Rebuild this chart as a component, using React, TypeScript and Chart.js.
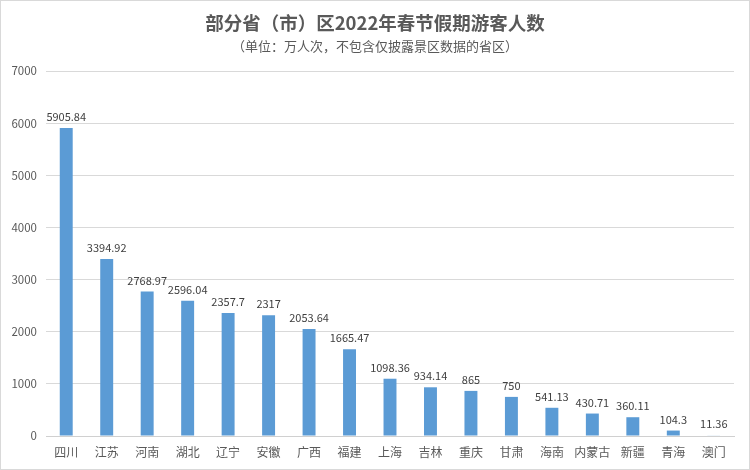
import React, { useEffect, useRef } from "react";
import { Chart, registerables } from "chart.js";

Chart.register(...registerables);

const TITLE = "部分省（市）区2022年春节假期游客人数";
const SUBTITLE = "（单位：万人次，不包含仅披露景区数据的省区）";
const categories = ["四川", "江苏", "河南", "湖北", "辽宁", "安徽", "广西", "福建", "上海", "吉林", "重庆", "甘肃", "海南", "内蒙古", "新疆", "青海", "澳门"];
const values = [5905.84, 3394.92, 2768.97, 2596.04, 2357.7, 2317, 2053.64, 1665.47, 1098.36, 934.14, 865, 750, 541.13, 430.71, 360.11, 104.3, 11.36];
const valueLabels = ["5905.84", "3394.92", "2768.97", "2596.04", "2357.7", "2317", "2053.64", "1665.47", "1098.36", "934.14", "865", "750", "541.13", "430.71", "360.11", "104.3", "11.36"];

const FONT = "'Noto Sans CJK SC', 'Microsoft YaHei', sans-serif";

const overlay = {
  id: "overlay",
  afterDraw(chart: any) {
    const ctx = chart.ctx;
    ctx.save();
    ctx.textAlign = "center";
    ctx.textBaseline = "middle";
    ctx.fillStyle = "#595959";
    ctx.font = `bold 18.5px ${FONT}`;
    ctx.fillText(TITLE, chart.width / 2, 22);
    ctx.font = `13px ${FONT}`;
    ctx.fillText(SUBTITLE, chart.width / 2, 45);
    const meta = chart.getDatasetMeta(0);
    ctx.fillStyle = "#404040";
    ctx.font = `11px ${FONT}`;
    ctx.textBaseline = "alphabetic";
    meta.data.forEach((bar: any, i: number) => {
      ctx.fillText(valueLabels[i], bar.x, bar.y - 7);
    });
    ctx.restore();
  },
};

export default function App() {
  const ref = useRef<HTMLCanvasElement>(null);
  useEffect(() => {
    const chart = new Chart(ref.current!, {
      type: "bar",
      data: {
        labels: categories,
        datasets: [
          {
            data: values,
            backgroundColor: "#5B9BD5",
            barPercentage: 0.32,
            categoryPercentage: 1,
          },
        ],
      },
      options: {
        animation: false,
        responsive: false,
        maintainAspectRatio: false,
        layout: { padding: { top: 70, right: 15, left: 0, bottom: 0 } },
        plugins: { legend: { display: false }, tooltip: { enabled: false }, title: { display: false } },
        scales: {
          x: {
            grid: { display: false, drawTicks: false },
            border: { color: "#d0d0d0" },
            ticks: { color: "#595959", font: { family: FONT, size: 12 }, padding: 9, maxRotation: 0, autoSkip: false },
            afterFit(scale: any) {
              scale.height = 33;
            },
          },
          y: {
            min: 0,
            max: 7000,
            ticks: {
              stepSize: 1000,
              color: "#595959",
              font: { family: FONT, size: 11.5 },
              padding: 9,
              callback: (v: any) => String(v),
            },
            grid: { color: "#d9d9d9", drawTicks: false },
            border: { display: false },
            afterFit(scale: any) {
              scale.width = 45;
            },
          },
        },
      },
      plugins: [overlay],
    });
    return () => chart.destroy();
  }, []);
  return (
    <div style={{ position: "absolute", left: 0, top: 0, width: 750, height: 470, boxSizing: "border-box", border: "1px solid #d9d9d9", background: "#fff" }}>
      <canvas ref={ref} width={748} height={468} style={{ display: "block" }} />
    </div>
  );
}
